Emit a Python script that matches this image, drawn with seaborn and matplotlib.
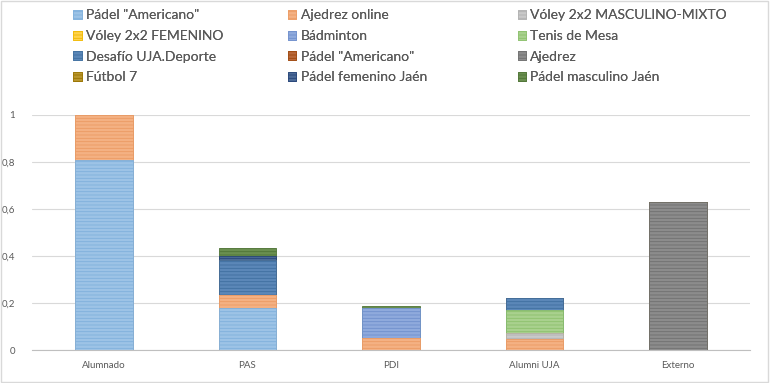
import matplotlib
matplotlib.use("Agg")
import matplotlib.pyplot as plt
from matplotlib.patches import Patch, Rectangle
import numpy as np
import seaborn as sns

#%% data
categories = ['Alumnado', 'PAS', 'PDI', 'Alumni UJA', 'Externo']
series_names = ['Pádel "Americano"', 'Ajedrez online', 'Vóley 2x2 MASCULINO-MIXTO',
                'Vóley 2x2 FEMENINO', 'Bádminton', 'Tenis de Mesa',
                'Desafío UJA.Deporte', 'Pádel "Americano"', 'Ajedrez',
                'Fútbol 7', 'Pádel femenino Jaén', 'Pádel masculino Jaén']
padel_americano = [0.81, 0.18, 0.0, 0.0, 0.0]
ajedrez_online = [0.19, 0.055, 0.05, 0.045, 0.0]
voley_masc = [0.0, 0.0, 0.0, 0.027, 0.0]
voley_fem = [0.0, 0.0, 0.0, 0.0, 0.0]
badminton = [0.0, 0.0, 0.127, 0.0, 0.0]
tenis_mesa = [0.0, 0.0, 0.0, 0.098, 0.0]
desafio = [0.0, 0.15, 0.0, 0.05, 0.0]
padel_americano_2 = [0.0, 0.0, 0.0, 0.0, 0.0]
ajedrez = [0.0, 0.0, 0.0, 0.0, 0.63]
futbol7 = [0.0, 0.0, 0.0, 0.0, 0.0]
padel_fem_jaen = [0.0, 0.017, 0.0, 0.0, 0.0]
padel_masc_jaen = [0.0, 0.03, 0.01, 0.0, 0.0]

series = [padel_americano, ajedrez_online, voley_masc, voley_fem, badminton, tenis_mesa,
          desafio, padel_americano_2, ajedrez, futbol7, padel_fem_jaen, padel_masc_jaen]
# (face, stripe)
colors = [('#9dc3e6', '#7fb0dc'), ('#f4b183', '#ec9a62'), ('#c9c9c9', '#b0b0b0'),
          ('#ffd34d', '#f0b800'), ('#8faadc', '#6f8fcc'), ('#a9d18e', '#8cc06c'),
          ('#5b87b8', '#3f6f9f'), ('#b9683a', '#9e480e'), ('#8c8c8c', '#6f6f6f'),
          ('#b8962e', '#997300'), ('#4c6a97', '#264478'), ('#6a8f50', '#4f7436')]

#%%
sns.set_style('white')
plt.rcParams['font.family'] = ['Lato', 'DejaVu Sans']
plt.rcParams['hatch.linewidth'] = 0.6

fig = plt.figure(figsize=(7.7, 3.83), dpi=100)
ax = fig.add_axes([0.0416, 0.086, 0.932, 0.614])

cum = np.cumsum(np.array(series), axis=0)
# draw cumulative totals from the top down so lower segments cover upper ones
for k in range(len(series) - 1, -1, -1):
    face, stripe = colors[k]
    sns.barplot(x=categories, y=cum[k], color=face, width=0.4, ax=ax,
                hatch='-----', edgecolor=stripe, linewidth=0.6, saturation=1)

ax.set_ylim(0, 1)
ax.set_yticks([0, 0.2, 0.4, 0.6, 0.8, 1.0])
ax.set_yticklabels(['0', '0,2', '0,4', '0,6', '0,8', '1'])
ax.grid(axis='y', color='#d9d9d9', linewidth=0.8)
ax.set_axisbelow(True)
for s in ['top', 'right', 'left']:
    ax.spines[s].set_visible(False)
ax.spines['bottom'].set_color('#bfbfbf')
ax.tick_params(axis='both', length=0, labelsize=7, colors='#595959', pad=8)
ax.tick_params(axis='y', pad=12)

# legend in three columns, filled row by row
col_x = [0.088, 0.367, 0.665]
for c in range(3):
    idx = [c, c + 3, c + 6, c + 9]
    handles = [Patch(facecolor=colors[i][0], edgecolor=colors[i][1], hatch='-----',
                     linewidth=0.5) for i in idx]
    leg = fig.legend(handles, [series_names[i] for i in idx], loc='upper left',
                     bbox_to_anchor=(col_x[c], 0.99), frameon=False, fontsize=10,
                     handlelength=0.6, handleheight=0.6, handletextpad=0.3,
                     labelspacing=0.62, borderaxespad=0, labelcolor='#595959')
    fig.add_artist(leg)

fig.add_artist(Rectangle((0.001, 0.002), 0.997, 0.995, transform=fig.transFigure,
                         fill=False, edgecolor='#d9d9d9', linewidth=1))

plt.savefig('out.png', dpi=100)
